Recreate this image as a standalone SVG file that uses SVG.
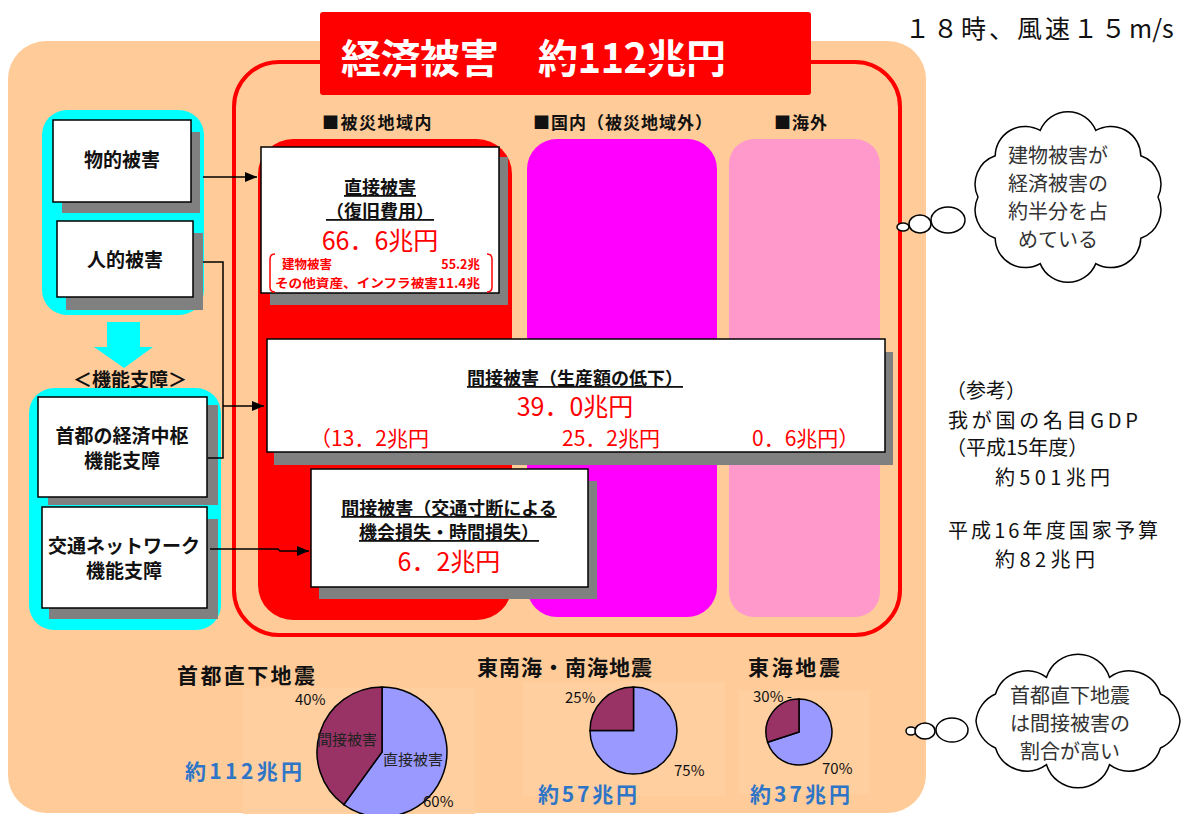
<svg xmlns="http://www.w3.org/2000/svg" width="1199" height="814" viewBox="0 0 1199 814">
<defs>
<marker id="arr" markerUnits="userSpaceOnUse" markerWidth="12" markerHeight="10" refX="12" refY="5" orient="auto">
<path d="M0,0 L12,5 L0,10 Z" fill="#000"/>
</marker>
<style>
text{font-family:"Noto Sans CJK JP","Noto Sans CJK SC",sans-serif;}
.box{fill:#fff;stroke:#000;stroke-width:1.5;}
.sh{fill:#808080;}
.lbl{font-size:19px;font-weight:bold;fill:#111;text-anchor:middle;}
.hdr{font-size:17px;font-weight:bold;fill:#111;}
.ttl{font-size:18px;font-weight:bold;fill:#111;text-anchor:middle;text-decoration:underline;}
.amt{font-size:25px;fill:#FF0000;text-anchor:middle;}
.sub{font-size:21px;fill:#FF0000;}
.ref{font-size:20px;fill:#111;}
.cld{fill:#fff;stroke:#000;stroke-width:1.5;}
.ct{font-size:20px;fill:#333;text-anchor:middle;}
.eq{font-size:21px;font-weight:bold;fill:#111;}
.tot{font-size:21px;font-weight:bold;fill:#2E75C8;}
.pct{font-size:15px;fill:#111;}
.conn{fill:none;stroke:#000;stroke-width:1.5;}
</style>
</defs>

<rect x="8" y="41" width="918" height="772" rx="38" fill="#FFCC99"/>
<rect x="243" y="688" width="232" height="126" fill="#FFCFA0"/>
<rect x="523" y="682" width="202" height="114" fill="#FFCFA0"/>
<rect x="738" y="690" width="132" height="104" fill="#FFCFA0"/>

<g id="title">
<rect x="320" y="12" width="491" height="83" rx="3" fill="#FF0000"/>
<text x="341" y="73" font-size="40" font-weight="bold" fill="#fff" textLength="385" lengthAdjust="spacing">経済被害　約112兆円</text>
</g>
<text id="condition" x="905" y="38" font-size="25" fill="#111"><tspan letter-spacing="3">１８時、風速１５</tspan><tspan>m/s</tspan></text>

<rect id="frame" x="234" y="62" width="666" height="573" rx="45" fill="none" stroke="#FF0000" stroke-width="4"/>

<g id="columns">
<text class="hdr" x="322" y="129" letter-spacing="1.5">■被災地域内</text>
<text class="hdr" x="533" y="129" letter-spacing="1">■国内（被災地域外）</text>
<text class="hdr" x="774" y="129" letter-spacing="1">■海外</text>
<rect x="258" y="139" width="254" height="481" rx="35" fill="#FF0000"/>
<rect x="527" y="139" width="190" height="478" rx="30" fill="#FF00FF"/>
<rect x="729" y="139" width="151" height="478" rx="25" fill="#FF99CC"/>
</g>

<g id="group-physical">
<rect x="42" y="110" width="162" height="205" rx="25" fill="#00FFFF"/>
</g>
<g id="node-physical">
<rect class="sh" x="62" y="132" width="138" height="81"/>
<rect class="box" x="53" y="120" width="138" height="82"/>
<text class="lbl" x="122" y="167">物的被害</text>
</g>
<g id="node-human">
<rect class="sh" x="66" y="233" width="137" height="77"/>
<rect class="box" x="57" y="221" width="136" height="76"/>
<text class="lbl" x="125" y="267">人的被害</text>
</g>

<g id="down-arrow">
<path d="M107,322 L140,322 L140,347 L153,347 L124,368 L94,347 L107,347 Z" fill="#00FFFF"/>
<text x="130" y="387" font-size="19" font-weight="bold" fill="#111" text-anchor="middle">＜機能支障＞</text>
</g>

<g id="group-function">
<rect x="29" y="388" width="192" height="242" rx="25" fill="#00FFFF"/>
</g>
<g id="node-capital">
<rect class="sh" x="48" y="405" width="170" height="100"/>
<rect class="box" x="38" y="397" width="169" height="100"/>
<text class="lbl" x="122" y="443">首都の経済中枢</text>
<text class="lbl" x="122" y="468">機能支障</text>
</g>
<g id="node-traffic">
<rect class="sh" x="49" y="519" width="169" height="100"/>
<rect class="box" x="42" y="507" width="165" height="101"/>
<text class="lbl" x="124" y="553">交通ネットワーク</text>
<text class="lbl" x="124" y="578">機能支障</text>
</g>

<g id="node-direct">
<rect class="sh" x="270" y="157" width="238" height="148"/>
<rect class="box" x="261" y="147" width="238" height="146"/>
<text class="ttl" x="380" y="194">直接被害</text>
<text class="ttl" x="380" y="218">（復旧費用）</text>
<text class="amt" x="380" y="250" font-size="26">66．6兆円</text>
<path d="M275,254 Q270,254 270,259 L270,287 Q270,292 275,292 M487,254 Q492,254 492,259 L492,287 Q492,292 487,292" fill="none" stroke="#FF0000" stroke-width="1.5"/>
<text x="282" y="269" font-size="12.5" font-weight="bold" fill="#FF0000">建物被害</text>
<text x="480" y="269" font-size="12.5" font-weight="bold" fill="#FF0000" text-anchor="end">55.2兆</text>
<text x="275" y="288" font-size="12.5" font-weight="bold" fill="#FF0000" textLength="205" lengthAdjust="spacingAndGlyphs">その他資産、インフラ被害11.4兆</text>
</g>

<g id="node-indirect-production">
<rect class="sh" x="274" y="352" width="619" height="113"/>
<rect class="box" x="267" y="339" width="618" height="113"/>
<text class="ttl" x="575" y="385">間接被害（生産額の低下）</text>
<text class="amt" x="575" y="416">39．0兆円</text>
<text class="sub" x="310" y="446">（13．2兆円</text>
<text class="sub" x="562" y="446">25．2兆円</text>
<text class="sub" x="752" y="446">0．6兆円）</text>
</g>

<g id="node-indirect-traffic">
<rect class="sh" x="319" y="481" width="278" height="118"/>
<rect class="box" x="311" y="469" width="277" height="118"/>
<text class="ttl" x="449" y="515">間接被害（交通寸断による</text>
<text class="ttl" x="449" y="539">機会損失・時間損失）</text>
<text class="amt" x="449" y="571">6．2兆円</text>
</g>

<g id="connectors">
<line class="conn" x1="203" y1="177" x2="257" y2="177" marker-end="url(#arr)"/>
<polyline class="conn" points="203,262 223,262 223,458 208,458"/>
<line class="conn" x1="223" y1="406" x2="264" y2="406" marker-end="url(#arr)"/>
<polyline class="conn" points="210,549 278,549 280,551 309,551" marker-end="url(#arr)"/>
</g>

<g id="cloud-building">
<ellipse class="cld" cx="903" cy="227" rx="6" ry="4"/>
<ellipse class="cld" cx="920" cy="224" rx="11" ry="9"/>
<ellipse class="cld" cx="948" cy="220" rx="17" ry="13"/>
<path class="cld" d="M1158,197 A30,30 0 0 1 1140.8,238.2 A30,30 0 0 1 1095.8,263.6 A30,30 0 0 1 1040.2,263.6 A30,30 0 0 1 995.2,238.2 A30,30 0 0 1 978,197 A30,30 0 0 1 995.2,155.8 A30,30 0 0 1 1040.2,130.4 A30,30 0 0 1 1095.8,130.4 A30,30 0 0 1 1140.8,155.8 A30,30 0 0 1 1158,197 Z"/>
<text class="ct" x="1058" y="163">建物被害が</text>
<text class="ct" x="1058" y="191">経済被害の</text>
<text class="ct" x="1058" y="219">約半分を占</text>
<text class="ct" x="1058" y="247">めている</text>
</g>

<g id="cloud-ratio">
<ellipse class="cld" cx="911" cy="731" rx="5" ry="4"/>
<ellipse class="cld" cx="925" cy="731" rx="10" ry="8"/>
<ellipse class="cld" cx="952" cy="730" rx="16" ry="12"/>
<path class="cld" d="M1180,721 A33,33 0 0 1 1160.5,748 A33,33 0 0 1 1109.5,764.7 A33,33 0 0 1 1046.5,764.7 A33,33 0 0 1 995.5,748 A33,33 0 0 1 976,721 A33,33 0 0 1 995.5,694 A33,33 0 0 1 1046.5,677.3 A33,33 0 0 1 1109.5,677.3 A33,33 0 0 1 1160.5,694 A33,33 0 0 1 1180,721 Z"/>
<text class="ct" x="1070" y="703">首都直下地震</text>
<text class="ct" x="1070" y="731">は間接被害の</text>
<text class="ct" x="1070" y="759">割合が高い</text>
</g>

<g id="reference">
<text class="ref" x="946" y="398">（参考）</text>
<text class="ref" x="948" y="428" textLength="190" lengthAdjust="spacing">我が国の名目GDP</text>
<text class="ref" x="946" y="455">（平成15年度）</text>
<text class="ref" x="995" y="485" textLength="115" lengthAdjust="spacing">約501兆円</text>
<text class="ref" x="948" y="538" textLength="210" lengthAdjust="spacing">平成16年度国家予算</text>
<text class="ref" x="995" y="567" textLength="100" lengthAdjust="spacing">約82兆円</text>
</g>

<g id="pie-capital">
<text class="eq" x="177" y="683" textLength="138" lengthAdjust="spacing">首都直下地震</text>
<path d="M382,752 L382,687 A65,65 0 1 1 343.8,804.6 Z" fill="#9999FF" stroke="#000" stroke-width="1.5"/>
<path d="M382,752 L343.8,804.6 A65,65 0 0 1 382,687 Z" fill="#993366" stroke="#000" stroke-width="1.5"/>
<text class="pct" x="295" y="705">40%</text>
<text x="347" y="745" font-size="15" fill="#222" text-anchor="middle">間接被害</text>
<text x="413" y="765" font-size="15" fill="#222" text-anchor="middle">直接被害</text>
<text class="pct" x="423" y="807">60%</text>
<text class="tot" x="185" y="779" textLength="117" lengthAdjust="spacing">約112兆円</text>
</g>

<g id="pie-tonankai">
<text class="eq" x="477" y="675" textLength="175" lengthAdjust="spacing">東南海・南海地震</text>
<path d="M633.5,730.5 L633.5,687 A43.5,43.5 0 1 1 590,730.5 Z" fill="#9999FF" stroke="#000" stroke-width="1.5"/>
<path d="M633.5,730.5 L590,730.5 A43.5,43.5 0 0 1 633.5,687 Z" fill="#993366" stroke="#000" stroke-width="1.5"/>
<text class="pct" x="565" y="703">25%</text>
<text class="pct" x="674" y="776">75%</text>
<text class="tot" x="538" y="802" textLength="99" lengthAdjust="spacing">約57兆円</text>
</g>

<g id="pie-tokai">
<text class="eq" x="748" y="675" textLength="92" lengthAdjust="spacing">東海地震</text>
<path d="M799,732 L799,699 A33,33 0 1 1 767.6,742.2 Z" fill="#9999FF" stroke="#000" stroke-width="1.5"/>
<path d="M799,732 L767.6,742.2 A33,33 0 0 1 799,699 Z" fill="#993366" stroke="#000" stroke-width="1.5"/>
<text class="pct" x="753" y="702">30% -</text>
<text class="pct" x="822" y="774">70%</text>
<text class="tot" x="750" y="802" textLength="100" lengthAdjust="spacing">約37兆円</text>
</g>
</svg>
